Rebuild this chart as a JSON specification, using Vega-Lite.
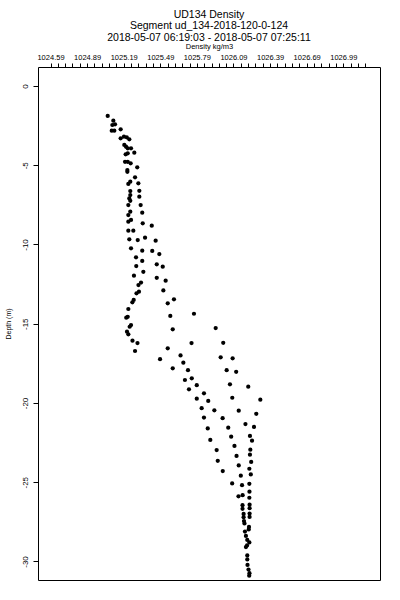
{
  "$schema": "https://vega.github.io/schema/vega-lite/v6.json",
  "width": 342,
  "height": 513,
  "autosize": "none",
  "padding": {"left": 38, "top": 67, "right": 20, "bottom": 20},
  "background": "white",
  "title": {
    "text": ["UD134 Density", "Segment ud_134-2018-120-0-124", "2018-05-07 06:19:03 - 2018-05-07 07:25:11"],
    "font": "Liberation Sans",
    "fontSize": 10.5,
    "fontWeight": "normal",
    "color": "black",
    "lineHeight": 11.5,
    "anchor": "middle",
    "offset": -1
  },
  "config": {
    "view": {"stroke": "black", "strokeWidth": 1},
    "axis": {
      "domain": false,
      "grid": false,
      "tickColor": "black",
      "labelColor": "black",
      "titleColor": "black",
      "labelFont": "Liberation Sans",
      "titleFont": "Liberation Sans",
      "titleFontWeight": "normal"
    }
  },
  "data": {
    "values": [
      {"density": 1025.059, "depth": -1.89},
      {"density": 1025.105, "depth": -2.19},
      {"density": 1025.097, "depth": -2.46},
      {"density": 1025.119, "depth": -2.42},
      {"density": 1025.092, "depth": -2.82},
      {"density": 1025.113, "depth": -2.82},
      {"density": 1025.165, "depth": -2.73},
      {"density": 1025.165, "depth": -3.30},
      {"density": 1025.192, "depth": -3.20},
      {"density": 1025.215, "depth": -3.24},
      {"density": 1025.236, "depth": -3.36},
      {"density": 1025.195, "depth": -3.72},
      {"density": 1025.209, "depth": -3.83},
      {"density": 1025.223, "depth": -3.93},
      {"density": 1025.250, "depth": -3.93},
      {"density": 1025.277, "depth": -4.21},
      {"density": 1025.206, "depth": -4.31},
      {"density": 1025.223, "depth": -4.25},
      {"density": 1025.201, "depth": -4.78},
      {"density": 1025.223, "depth": -4.78},
      {"density": 1025.247, "depth": -4.88},
      {"density": 1025.301, "depth": -5.13},
      {"density": 1025.220, "depth": -5.30},
      {"density": 1025.220, "depth": -5.41},
      {"density": 1025.283, "depth": -5.76},
      {"density": 1025.228, "depth": -6.18},
      {"density": 1025.244, "depth": -6.04},
      {"density": 1025.310, "depth": -6.14},
      {"density": 1025.244, "depth": -6.63},
      {"density": 1025.244, "depth": -6.88},
      {"density": 1025.318, "depth": -6.61},
      {"density": 1025.318, "depth": -6.98},
      {"density": 1025.236, "depth": -7.09},
      {"density": 1025.244, "depth": -7.24},
      {"density": 1025.329, "depth": -7.51},
      {"density": 1025.228, "depth": -7.51},
      {"density": 1025.244, "depth": -7.93},
      {"density": 1025.228, "depth": -8.14},
      {"density": 1025.342, "depth": -7.99},
      {"density": 1025.250, "depth": -8.45},
      {"density": 1025.228, "depth": -8.56},
      {"density": 1025.346, "depth": -8.66},
      {"density": 1025.420, "depth": -8.81},
      {"density": 1025.228, "depth": -9.13},
      {"density": 1025.269, "depth": -9.13},
      {"density": 1025.236, "depth": -9.67},
      {"density": 1025.305, "depth": -9.72},
      {"density": 1025.365, "depth": -9.57},
      {"density": 1025.452, "depth": -9.76},
      {"density": 1025.250, "depth": -10.24},
      {"density": 1025.342, "depth": -10.39},
      {"density": 1025.424, "depth": -10.41},
      {"density": 1025.482, "depth": -10.60},
      {"density": 1025.291, "depth": -10.81},
      {"density": 1025.342, "depth": -11.04},
      {"density": 1025.293, "depth": -11.36},
      {"density": 1025.461, "depth": -11.25},
      {"density": 1025.510, "depth": -11.40},
      {"density": 1025.351, "depth": -11.72},
      {"density": 1025.274, "depth": -11.97},
      {"density": 1025.461, "depth": -12.10},
      {"density": 1025.534, "depth": -12.28},
      {"density": 1025.332, "depth": -12.40},
      {"density": 1025.311, "depth": -12.56},
      {"density": 1025.515, "depth": -12.90},
      {"density": 1025.315, "depth": -12.98},
      {"density": 1025.295, "depth": -13.08},
      {"density": 1025.602, "depth": -13.46},
      {"density": 1025.551, "depth": -13.71},
      {"density": 1025.272, "depth": -13.50},
      {"density": 1025.261, "depth": -13.65},
      {"density": 1025.228, "depth": -14.07},
      {"density": 1025.766, "depth": -14.37},
      {"density": 1025.572, "depth": -14.51},
      {"density": 1025.223, "depth": -14.56},
      {"density": 1025.211, "depth": -14.62},
      {"density": 1025.250, "depth": -15.08},
      {"density": 1025.239, "depth": -15.19},
      {"density": 1025.592, "depth": -15.35},
      {"density": 1025.944, "depth": -15.27},
      {"density": 1025.217, "depth": -15.50},
      {"density": 1025.228, "depth": -15.67},
      {"density": 1025.262, "depth": -16.07},
      {"density": 1025.303, "depth": -16.22},
      {"density": 1025.746, "depth": -16.22},
      {"density": 1026.006, "depth": -16.20},
      {"density": 1025.283, "depth": -16.72},
      {"density": 1025.551, "depth": -16.55},
      {"density": 1025.656, "depth": -17.00},
      {"density": 1025.488, "depth": -17.24},
      {"density": 1025.985, "depth": -17.12},
      {"density": 1026.083, "depth": -17.18},
      {"density": 1025.679, "depth": -17.46},
      {"density": 1025.592, "depth": -17.81},
      {"density": 1025.717, "depth": -17.93},
      {"density": 1026.034, "depth": -17.93},
      {"density": 1026.112, "depth": -18.03},
      {"density": 1025.692, "depth": -18.55},
      {"density": 1025.748, "depth": -18.44},
      {"density": 1026.061, "depth": -18.82},
      {"density": 1026.211, "depth": -18.97},
      {"density": 1025.725, "depth": -19.14},
      {"density": 1025.789, "depth": -18.88},
      {"density": 1025.848, "depth": -19.39},
      {"density": 1025.789, "depth": -19.73},
      {"density": 1025.883, "depth": -19.87},
      {"density": 1026.080, "depth": -19.67},
      {"density": 1026.310, "depth": -19.79},
      {"density": 1025.829, "depth": -20.33},
      {"density": 1025.933, "depth": -20.46},
      {"density": 1026.133, "depth": -20.49},
      {"density": 1026.277, "depth": -20.68},
      {"density": 1025.848, "depth": -20.92},
      {"density": 1026.001, "depth": -20.96},
      {"density": 1026.188, "depth": -21.33},
      {"density": 1026.258, "depth": -21.51},
      {"density": 1025.879, "depth": -21.61},
      {"density": 1026.047, "depth": -21.56},
      {"density": 1026.225, "depth": -22.08},
      {"density": 1026.242, "depth": -22.38},
      {"density": 1026.071, "depth": -22.13},
      {"density": 1025.900, "depth": -22.33},
      {"density": 1026.098, "depth": -22.71},
      {"density": 1025.952, "depth": -22.97},
      {"density": 1026.228, "depth": -22.95},
      {"density": 1026.225, "depth": -23.26},
      {"density": 1026.115, "depth": -23.34},
      {"density": 1025.961, "depth": -23.65},
      {"density": 1026.235, "depth": -23.72},
      {"density": 1026.133, "depth": -23.94},
      {"density": 1026.220, "depth": -24.15},
      {"density": 1026.002, "depth": -24.30},
      {"density": 1026.150, "depth": -24.59},
      {"density": 1026.232, "depth": -24.51},
      {"density": 1026.079, "depth": -25.08},
      {"density": 1026.160, "depth": -25.19},
      {"density": 1026.220, "depth": -25.10},
      {"density": 1026.221, "depth": -25.60},
      {"density": 1026.131, "depth": -25.89},
      {"density": 1026.165, "depth": -25.82},
      {"density": 1026.220, "depth": -25.98},
      {"density": 1026.164, "depth": -26.45},
      {"density": 1026.164, "depth": -26.68},
      {"density": 1026.222, "depth": -26.42},
      {"density": 1026.222, "depth": -26.64},
      {"density": 1026.173, "depth": -27.00},
      {"density": 1026.222, "depth": -26.98},
      {"density": 1026.222, "depth": -27.19},
      {"density": 1026.173, "depth": -27.21},
      {"density": 1026.176, "depth": -27.45},
      {"density": 1026.180, "depth": -27.60},
      {"density": 1026.217, "depth": -27.82},
      {"density": 1026.215, "depth": -27.98},
      {"density": 1026.184, "depth": -28.11},
      {"density": 1026.192, "depth": -28.39},
      {"density": 1026.203, "depth": -28.64},
      {"density": 1026.220, "depth": -28.80},
      {"density": 1026.201, "depth": -28.99},
      {"density": 1026.192, "depth": -29.09},
      {"density": 1026.203, "depth": -29.62},
      {"density": 1026.203, "depth": -29.87},
      {"density": 1026.205, "depth": -30.22},
      {"density": 1026.213, "depth": -30.51},
      {"density": 1026.221, "depth": -30.74},
      {"density": 1026.219, "depth": -30.90}
    ]
  },
  "mark": {"type": "point", "filled": true, "color": "black", "opacity": 1, "size": 18, "clip": true},
  "encoding": {
    "x": {
      "field": "density",
      "type": "quantitative",
      "scale": {"domain": [1024.4875, 1027.291], "nice": false, "zero": false},
      "axis": {
        "orient": "top",
        "title": "Density kg/m3",
        "titleFontSize": 7.5,
        "titlePadding": 3,
        "labelFontSize": 7.5,
        "labelPadding": 2,
        "tickSize": 4,
        "labelOverlap": false,
        "labelFlush": false,
        "labelBound": false,
        "values": [1024.59, 1024.65, 1024.71, 1024.77, 1024.83, 1024.89, 1024.95, 1025.01, 1025.07, 1025.13, 1025.19, 1025.25, 1025.31, 1025.37, 1025.43, 1025.49, 1025.55, 1025.61, 1025.67, 1025.73, 1025.79, 1025.85, 1025.91, 1025.97, 1026.03, 1026.09, 1026.15, 1026.21, 1026.27, 1026.33, 1026.39, 1026.45, 1026.51, 1026.57, 1026.63, 1026.69, 1026.75, 1026.81, 1026.87, 1026.93, 1026.99, 1027.05, 1027.11, 1027.17],
        "labelExpr": "abs((datum.value - 1024.59) / 0.3 - round((datum.value - 1024.59) / 0.3)) < 0.01 ? format(datum.value, '.2f') : ''"
      }
    },
    "y": {
      "field": "depth",
      "type": "quantitative",
      "scale": {"domain": [-31.17, 1.2], "nice": false, "zero": false},
      "axis": {
        "title": "Depth (m)",
        "titleFontSize": 7,
        "titlePadding": 10,
        "labelFontSize": 8,
        "labelAngle": -90,
        "labelAlign": "center",
        "labelBaseline": "bottom",
        "labelPadding": 4,
        "tickSize": 5,
        "values": [0, -5, -10, -15, -20, -25, -30],
        "labelExpr": "'' + datum.value"
      }
    }
  }
}
